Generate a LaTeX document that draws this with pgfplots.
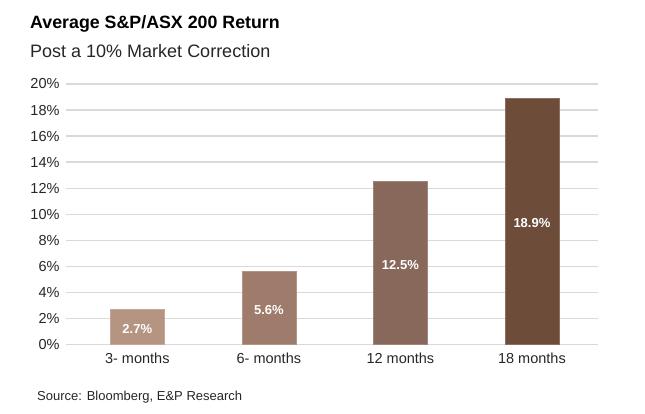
\documentclass[border=0pt]{standalone}
\usepackage{pgfplots}
\pgfplotsset{compat=1.18}
\usepackage{fontspec}
\setmainfont{Liberation Sans}
\definecolor{cA}{HTML}{B59482}
\definecolor{cB}{HTML}{9E7B6A}
\definecolor{cC}{HTML}{87685A}
\definecolor{cD}{HTML}{6D4C3A}
\definecolor{grid}{HTML}{D9D9D9}
\definecolor{txt}{HTML}{262626}
\begin{document}
\begin{tikzpicture}[x=1bp,y=1bp]
\path[use as bounding box] (0,0) rectangle (645,413);
\node[anchor=base west,font=\fontsize{17.8bp}{21bp}\selectfont\bfseries,text=black,inner sep=0] at (30,385) {Average S\&P/ASX 200 Return};
\node[anchor=base west,font=\fontsize{18bp}{21bp}\selectfont,text=txt,inner sep=0] at (30,356) {Post a 10\% Market Correction};
\node[anchor=base west,font=\fontsize{13bp}{15bp}\selectfont,text=txt,inner sep=0] at (37,13) {Source: Bloomberg, E\&P Research};
\begin{axis}[
  at={(66bp,68.7bp)}, anchor=south west,
  scale only axis, width=531.7bp, height=260.3bp,
  xmin=-0.542, xmax=3.5, ymin=0, ymax=20,
  ytick={0,2,...,20},
  yticklabel={\pgfmathprintnumber{\tick}\%},
  /pgf/number format/assume math mode=true,
  xtick={0,1,2,3},
  xticklabels={3- months,6- months,12 months,18 months},
  major tick length=0pt,
  tick style={draw=none},
  xmajorgrids=false,
  ymajorgrids, major y grid style={grid, line width=1.2bp},
  axis x line*=bottom, axis y line*=left,
  axis line style={draw=none},
  ticklabel style={font=\fontsize{14.5bp}{17bp}\selectfont, text=txt},
  yticklabel style={xshift=-3bp},
  xticklabel style={yshift=-5bp},
  ybar, bar width=54bp, bar shift=0pt,
  nodes near coords,
  point meta=explicit symbolic,
  visualization depends on=y \as \rawy,
  every node near coord/.append style={anchor=center, text=white, font=\fontsize{13bp}{15bp}\selectfont\bfseries, shift={(axis direction cs:0,-\rawy/2)}, yshift=-2bp},
]
\draw[grid, line width=1.2bp] (axis cs:-0.542,0) -- (axis cs:3.5,0);
\addplot[fill=cA, draw=cA!80!white] coordinates {(0,2.7) [2.7\%]};
\addplot[fill=cB, draw=cB!80!white] coordinates {(1,5.6) [5.6\%]};
\addplot[fill=cC, draw=cC!80!white] coordinates {(2,12.5) [12.5\%]};
\addplot[fill=cD, draw=cD!80!white] coordinates {(3,18.9) [18.9\%]};
\end{axis}
\end{tikzpicture}
\end{document}
